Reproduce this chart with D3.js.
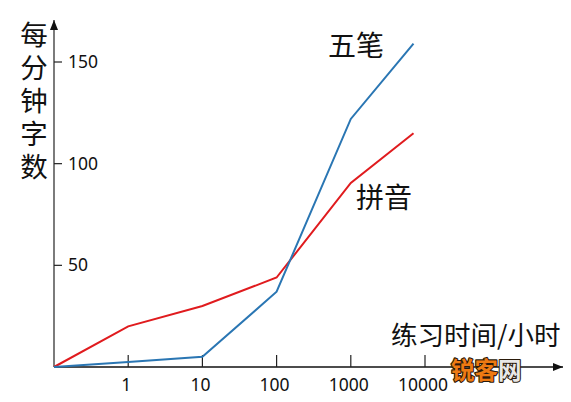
<!DOCTYPE html>
<html><head><meta charset="utf-8">
<script src="https://cdn.jsdelivr.net/npm/d3@7/dist/d3.min.js"></script>
<style>body{margin:0;background:#fff;}svg{display:block;}</style>
</head><body>
<script>
const hours = [0.1, 1, 10, 100, 1000, 7000];
const wubi = [0, 2.5, 5, 37, 122, 159];
const pinyin = [0, 20, 30, 44, 90.5, 115];
const xTicks = [1, 10, 100, 1000, 10000];
const xTickLabels = ["1", "10", "100", "1000", "10000"];
const yTicks = [50, 100, 150];
const seriesNames = ["五笔", "拼音"];
const yTitle = "每分钟字数";
const xTitle = "练习时间/小时";

const W = 571, H = 402;
const svg = d3.select("body").append("svg").attr("width", W).attr("height", H);
const x = d3.scaleLog().domain([0.1, 10000]).range([54, 425]);
const y = d3.scaleLinear().domain([0, 150]).range([367, 62]);
const ox = x(0.1), oy = y(0);

svg.append("defs").append("marker").attr("id","arr")
  .attr("viewBox","0 0 10 8").attr("refX",10).attr("refY",4)
  .attr("markerWidth",10).attr("markerHeight",8).attr("markerUnits","userSpaceOnUse")
  .attr("orient","auto")
  .append("path").attr("d","M0,0L10,4L0,8Z").attr("fill","#111");

svg.append("line").attr("x1",ox).attr("y1",oy).attr("x2",ox).attr("y2",20)
  .attr("stroke","#444").attr("stroke-width",1.4).attr("marker-end","url(#arr)");
svg.append("line").attr("x1",ox).attr("y1",oy).attr("x2",563).attr("y2",oy)
  .attr("stroke","#111").attr("stroke-width",1.4).attr("marker-end","url(#arr)");

const yt = svg.append("g");
yTicks.forEach(v=>{
  yt.append("line").attr("x1",ox).attr("x2",ox+8).attr("y1",y(v)).attr("y2",y(v))
    .attr("stroke","#222").attr("stroke-width",1.2);
  yt.append("text").attr("x",68).attr("y",y(v)+6).text(v)
    .attr("font-family","Noto Sans").attr("font-size",17.5).attr("fill","#111");
});
const xt = svg.append("g");
xTicks.forEach((v,i)=>{
  xt.append("line").attr("x1",x(v)).attr("x2",x(v)).attr("y1",oy).attr("y2",oy-12)
    .attr("stroke","#222").attr("stroke-width",1.2);
  xt.append("text").attr("x",x(v)-2).attr("y",391).attr("text-anchor","middle").text(xTickLabels[i])
    .attr("font-family","Noto Sans").attr("font-size",17.5).attr("fill","#111");
});

const line = d3.line().x((d,i)=>x(hours[i])).y(d=>y(d));
svg.append("path").attr("d",line(pinyin)).attr("fill","none").attr("stroke","#e01b1e").attr("stroke-width",2);
svg.append("path").attr("d",line(wubi)).attr("fill","none").attr("stroke","#2a76b3").attr("stroke-width",2);

const cjk = "'Noto Sans CJK SC'";
svg.append("text").attr("x",356).attr("y",56).attr("text-anchor","middle").text(seriesNames[0])
  .attr("font-family",cjk).attr("font-size",28).attr("fill","#111");
svg.append("text").attr("x",384).attr("y",208).attr("text-anchor","middle").text(seriesNames[1])
  .attr("font-family",cjk).attr("font-size",28).attr("fill","#111");

svg.append("text").attr("x",34).attr("y",21).text(yTitle)
  .style("writing-mode","vertical-rl").attr("letter-spacing",5.5)
  .attr("font-family",cjk).attr("font-size",27.5).attr("fill","#111");
svg.append("text").attr("x",391).attr("y",345).text(xTitle)
  .attr("font-family",cjk).attr("font-size",26.5).attr("fill","#111");

const wm = svg.append("text").attr("x",451).attr("y",379).attr("font-family",cjk).attr("font-weight","bold")
  .attr("font-size",23.5).attr("stroke","#2a1a0a").attr("stroke-width",2.2).attr("paint-order","stroke")
  .attr("stroke-linejoin","round");
wm.append("tspan").attr("fill","#ee7a12").text("锐客");
wm.append("tspan").attr("fill","#e8e8e8").text("网");
</script>
</body></html>
